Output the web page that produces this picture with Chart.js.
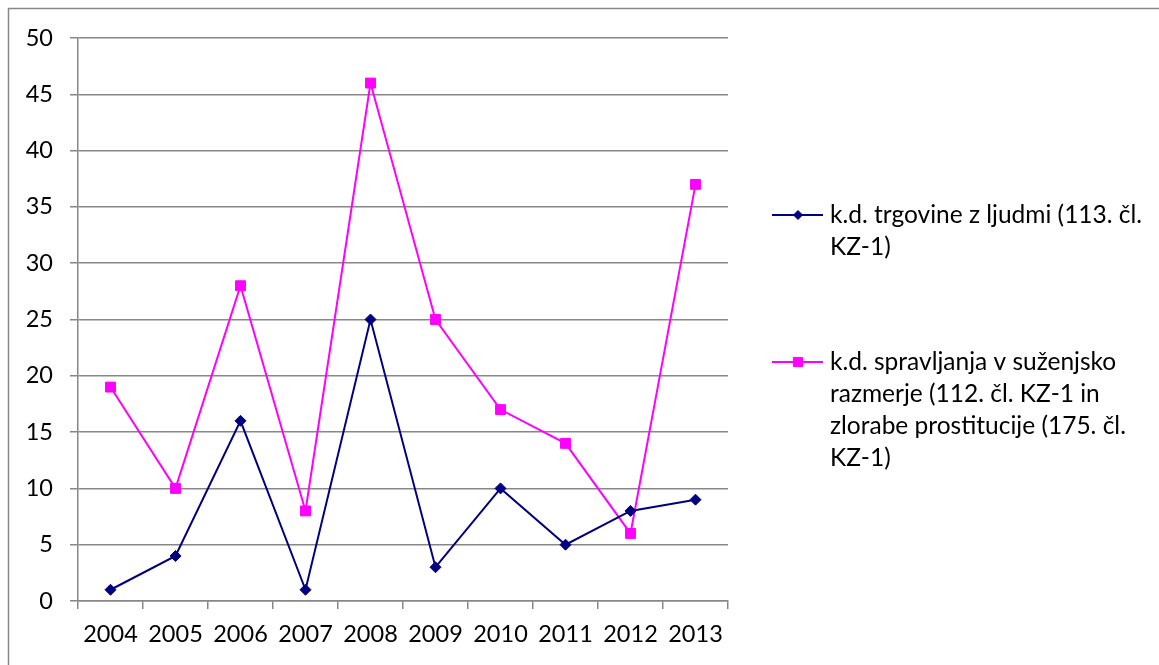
<!DOCTYPE html>
<html>
<head>
<meta charset="utf-8">
<script src="https://cdn.jsdelivr.net/npm/chart.js@4/dist/chart.umd.min.js"></script>
<style>
  html, body { margin: 0; padding: 0; background: #ffffff; }
  #wrap { width: 1159px; height: 665px; position: relative; }
</style>
</head>
<body>
<div id="wrap"><canvas id="c" width="1159" height="665"></canvas></div>
<script>
// Years on the category axis
const years = ['2004', '2005', '2006', '2007', '2008', '2009', '2010', '2011', '2012', '2013'];

// k.d. trgovine z ljudmi (113. čl. KZ-1)
const trafficking = [1, 4, 16, 1, 25, 3, 10, 5, 8, 9];

// k.d. spravljanja v suženjsko razmerje ... in zlorabe prostitucije
const slaveryProstitution = [19, 10, 28, 8, 46, 25, 17, 14, 6, 37];

// Legend text, one entry per series, already broken into lines
const legendLines = [
  ['k.d. trgovine z ljudmi (113. čl.', 'KZ-1)'],
  ['k.d. spravljanja v suženjsko', 'razmerje (112. čl. KZ-1 in', 'zlorabe prostitucije (175. čl.', 'KZ-1)']
];

// y axis ticks
const yMin = 0, yMax = 50, yStep = 5;

const FONT = 'Lato, "Open Sans", sans-serif';
const GRID = '#878787';
const NAVY = '#000080';
const MAGENTA = '#ff00ff';

// Outer frame of the chart object plus a hand-drawn legend on the right
const framePlugin = {
  id: 'frame',
  beforeDraw(chart) {
    const ctx = chart.ctx;
    ctx.save();
    ctx.strokeStyle = GRID;
    ctx.lineWidth = 1.5;
    ctx.beginPath();
    ctx.moveTo(8.5, chart.height);
    ctx.lineTo(8.5, 8.5);
    ctx.lineTo(chart.width, 8.5);
    ctx.stroke();
    ctx.restore();
  },
  afterDraw(chart) {
    const ctx = chart.ctx;
    const items = [
      { ds: chart.data.datasets[0], y: 215, lines: legendLines[0] },
      { ds: chart.data.datasets[1], y: 362, lines: legendLines[1] }
    ];
    const lineH = 32;
    ctx.save();
    items.forEach(it => {
      ctx.strokeStyle = it.ds.borderColor;
      ctx.lineWidth = 2;
      ctx.beginPath();
      ctx.moveTo(772, it.y);
      ctx.lineTo(823, it.y);
      ctx.stroke();
      const r = it.ds.pointStyle === 'rect' ? 6.5 : 4.5;
      ctx.fillStyle = it.ds.pointBackgroundColor;
      ctx.strokeStyle = it.ds.pointBorderColor;
      ctx.lineWidth = 1;
      Chart.helpers.drawPoint(ctx, { pointStyle: it.ds.pointStyle, radius: r, borderWidth: 1 }, 798, it.y);
      ctx.fillStyle = '#000000';
      ctx.font = '24.5px ' + FONT;
      ctx.textBaseline = 'middle';
      ctx.textAlign = 'left';
      it.lines.forEach((t, i) => ctx.fillText(t, 830, it.y + i * lineH));
    });
    ctx.restore();
  }
};

new Chart(document.getElementById('c'), {
  type: 'line',
  data: {
    labels: years,
    datasets: [
      {
        label: legendLines[0].join(' '),
        data: trafficking,
        borderColor: NAVY,
        backgroundColor: NAVY,
        pointBackgroundColor: NAVY,
        pointBorderColor: NAVY,
        pointStyle: 'rectRot',
        pointRadius: 5.5,
        pointBorderWidth: 1,
        borderWidth: 2,
        tension: 0
      },
      {
        label: legendLines[1].join(' '),
        data: slaveryProstitution,
        borderColor: MAGENTA,
        backgroundColor: MAGENTA,
        pointBackgroundColor: MAGENTA,
        pointBorderColor: MAGENTA,
        pointStyle: 'rect',
        pointRadius: 7,
        pointBorderWidth: 1,
        borderWidth: 2,
        tension: 0
      }
    ]
  },
  options: {
    responsive: false,
    animation: false,
    devicePixelRatio: 1,
    layout: { padding: { left: 0, right: 431, top: 38, bottom: 0 } },
    plugins: {
      legend: { display: false },
      tooltip: { enabled: false }
    },
    scales: {
      x: {
        type: 'category',
        offset: true,
        afterFit(scale) { scale.height = 64; },
        grid: {
          offset: true,
          drawOnChartArea: false,
          drawTicks: true,
          tickLength: 8,
          color: GRID,
          lineWidth: 1.5
        },
        border: { display: true, color: GRID, width: 1.5 },
        ticks: {
          color: '#000000',
          font: { family: FONT, size: 23.5 },
          padding: 11,
          maxRotation: 0,
          autoSkip: false
        }
      },
      y: {
        min: yMin,
        max: yMax,
        afterFit(scale) { scale.width = 78; },
        grid: {
          color: GRID,
          lineWidth: 1.5,
          tickLength: 8,
          drawTicks: true
        },
        border: { display: true, color: GRID, width: 1.5 },
        ticks: {
          stepSize: yStep,
          color: '#000000',
          font: { family: FONT, size: 23.5 },
          padding: 17
        }
      }
    }
  },
  plugins: [framePlugin]
});
</script>
</body>
</html>
